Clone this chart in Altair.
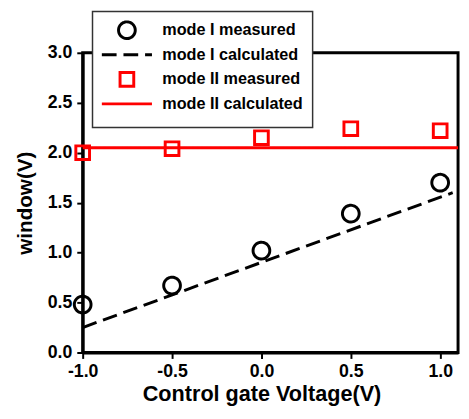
import altair as alt
import pandas as pd

# ---- data ----
gate_v = [-1.0, -0.5, 0.0, 0.5, 1.0]
mode1_measured = [0.48, 0.67, 1.02, 1.39, 1.70]
mode2_measured = [2.00, 2.04, 2.15, 2.24, 2.22]
mode1_calc_x = [-1.0, 1.07]
mode1_calc_y = [0.25, 1.60]
mode2_calc_x = [-1.0, 1.10]
mode2_calc_y = [2.05, 2.05]

series = ["mode I measured", "mode I calculated", "mode II measured", "mode II calculated"]
colors = ["black", "black", "#ff0000", "#ff0000"]
# every symbol shares the same (invisible) extent so legend rows line up evenly
ext = "M-3,-1M3,1"
shapes = [
    ext + "M1,0A1,1,0,0,1,0,1A1,1,0,0,1,-1,0A1,1,0,0,1,0,-1A1,1,0,0,1,1,0Z",
    ext + "M-3,0L3,0",
    ext + "M-0.82,-0.82L0.82,-0.82L0.82,0.82L-0.82,0.82Z",
    ext + "M-3,0L3,0",
]
dashes = [[1, 0], [15, 7], [1, 0], [1, 0]]

x_ticks = [-1.0, -0.5, 0.0, 0.5, 1.0]
y_ticks = [0.0, 0.5, 1.0, 1.5, 2.0, 2.5, 3.0]

pts = pd.DataFrame({
    "x": gate_v + gate_v,
    "y": mode1_measured + mode2_measured,
    "series": [series[0]] * len(gate_v) + [series[2]] * len(gate_v),
})
lines = pd.DataFrame({
    "x": mode1_calc_x + mode2_calc_x,
    "y": mode1_calc_y + mode2_calc_y,
    "series": [series[1]] * 2 + [series[3]] * 2,
})

leg = alt.Legend(
    title="M",
    titleOrient="left",
    titleFontSize=18,
    titleOpacity=0,
    titlePadding=1,
    orient="none",
    legendX=10,
    legendY=-42,
    symbolOffset=0,
    labelOffset=26,
    rowPadding=-14,
    symbolSize=289,
    symbolStrokeWidth=3,
    symbolFillColor="transparent",
)

x_enc = alt.X("x:Q", scale=alt.Scale(domain=[-1.0, 1.1], nice=False, zero=False),
              axis=alt.Axis(values=x_ticks, title="Control gate Voltage(V)", labelFlush=False,
                            labelExpr="(datum.value < 0 ? '-' : '') + format(abs(datum.value), '.1f')",
                            titleX=182, titleAlign="center", titlePadding=4, labelPadding=4,
                            titleFontSize=22))
y_enc = alt.Y("y:Q", scale=alt.Scale(domain=[0, 3], nice=False),
              axis=alt.Axis(values=y_ticks, format=".1f", title="window(V)", labelFlush=False,
                            titlePadding=12, labelPadding=5, titleFontSize=21))

color = alt.Color("series:N", scale=alt.Scale(domain=series, range=colors), legend=leg)
shape = alt.Shape("series:N", scale=alt.Scale(domain=series, range=shapes), legend=leg)
dash = alt.StrokeDash("series:N", scale=alt.Scale(domain=series, range=dashes), legend=leg)

line_layer = alt.Chart(lines).mark_line(strokeWidth=3).encode(
    x=x_enc, y=y_enc, color=color, strokeDash=dash, detail="series:N"
)
point_layer = alt.Chart(pts).mark_point(filled=False, strokeWidth=3, opacity=1, size=289).encode(
    x=x_enc, y=y_enc, color=color, shape=shape, strokeDash=dash,
)

chart = alt.layer(line_layer, point_layer).properties(
    width=382, height=305,
    autosize=alt.AutoSizeParams(type="none"),
    padding={"left": 76, "top": 42, "right": 3, "bottom": 60},
    background="white",
).configure_view(
    stroke="black", strokeWidth=3
).configure_axis(
    grid=False, domainColor="black", domainWidth=3,
    tickColor="black", tickWidth=2, tickSize=6,
    labelFont="Liberation Sans", labelFontWeight="bold", labelFontSize=18, labelColor="black",
    titleFont="Liberation Sans", titleFontWeight="bold", titleColor="black",
).configure_legend(
    strokeColor="#333333", fillColor="white", padding=9, strokeWidth=1.5,
    labelFont="Liberation Sans", labelFontWeight="bold", labelFontSize=16.5, labelColor="black",
)

chart.save("out.html", embed_options={"renderer": "svg", "actions": False})
